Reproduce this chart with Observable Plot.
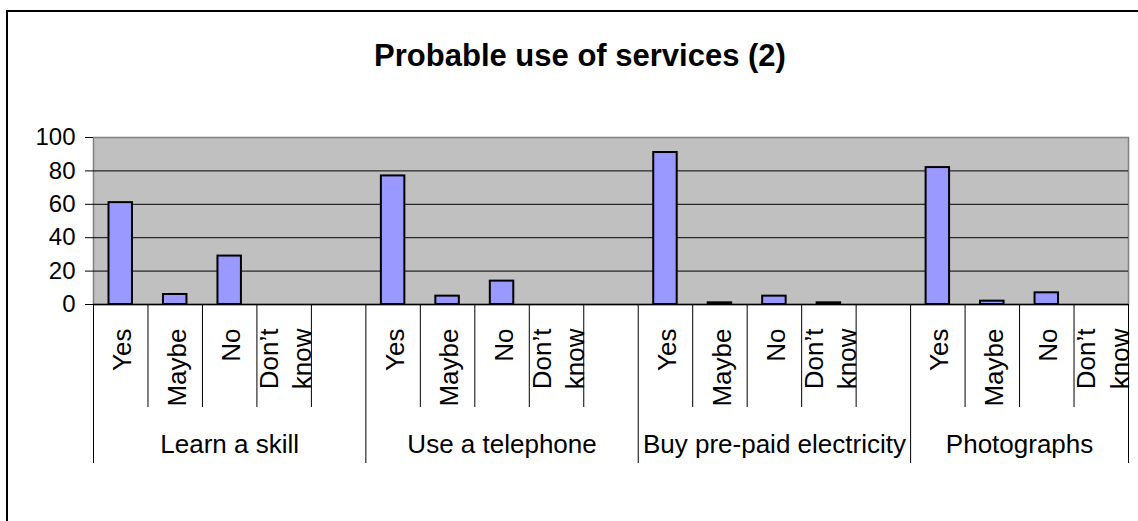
<!DOCTYPE html>
<html>
<head>
<meta charset="utf-8">
<script src="https://cdn.jsdelivr.net/npm/d3@7"></script>
<script src="https://cdn.jsdelivr.net/npm/@observablehq/plot@0.6"></script>
<style>
  html, body { margin: 0; padding: 0; background: #fff; }
  body { width: 1138px; height: 521px; overflow: hidden; position: relative;
         font-family: "Liberation Sans", Arial, sans-serif; }
  #border { position: absolute; left: 6px; top: 10px; width: 1148px; height: 600px;
            border: 2px solid #000; box-sizing: border-box; }
  #title { position: absolute; left: 6px; top: 40px; width: 1148px; text-align: center;
           font-size: 31px; line-height: 31px; font-weight: bold; color: #000; }
  #chart { position: absolute; left: 0; top: 100px; }
  #chart svg { overflow: visible; }
</style>
</head>
<body>
<div id="border"></div>
<div id="title">Probable use of services (2)</div>
<div id="chart"></div>
<script>
// ---- data ----
const groups = ["Learn a skill", "Use a telephone", "Buy pre-paid electricity", "Photographs"];
const answers = ["Yes", "Maybe", "No", "Don’t\nknow"];
const learnSkill     = [61, 6, 29, 0];
const useTelephone   = [77, 5, 14, 0];
const buyElectricity = [91, 1, 5, 1];
const photographs    = [82, 2, 7, 0];
const yTicks = [0, 20, 40, 60, 80, 100];

// ---- build slot table (blank slot between groups) ----
const series = [learnSkill, useTelephone, buyElectricity, photographs];
const rows = [];
const groupSpans = [];
const innerBounds = [];
let i = 0;
groups.forEach((g, gi) => {
  const start = i;
  answers.forEach((a, ai) => {
    rows.push({i, group: g, answer: a, value: series[gi][ai]});
    i++;
  });
  if (gi < groups.length - 1) i++; // blank slot
  groupSpans.push({group: g, start, end: i});
  for (let b = start + 1; b < i; b++) innerBounds.push(b);
});
const nSlots = i;
const groupBounds = [0, ...groupSpans.map(d => d.end)];

const font = "'Liberation Sans', Arial, sans-serif";

const chart = Plot.plot({
  width: 1138,
  height: 421,
  marginLeft: 93,
  marginRight: 10,
  marginTop: 37,
  marginBottom: 217,
  style: {fontFamily: font, fontSize: "25px", color: "#000", background: "transparent", overflow: "visible"},
  x: {type: "linear", domain: [0, nSlots], axis: null},
  y: {domain: [0, 100], label: null},
  marks: [
    Plot.frame({fill: "#C0C0C0", stroke: "#808080", strokeWidth: 1.5}),
    Plot.ruleY(yTicks.filter(t => t > 0 && t < 100), {stroke: "#000", strokeWidth: 1}),
    Plot.rectY(rows, {
      x1: "i", x2: d => d.i + 1, y: "value",
      insetLeft: 15.5, insetRight: 15.5,
      fill: "#9999FF", stroke: "#000", strokeWidth: 2
    }),
    Plot.ruleY([0], {stroke: "#000", strokeWidth: 1.5}),
    Plot.axisY({ticks: yTicks, tickSize: 8, tickPadding: 10, fontSize: 24, stroke: "#000", label: null}),
    // category separators below the axis
    Plot.ruleX(innerBounds, {x: d => d, insetTop: 167, insetBottom: -103, stroke: "#000", strokeWidth: 1}),
    Plot.ruleX(groupBounds, {x: d => d, insetTop: 167, insetBottom: -159, stroke: "#000", strokeWidth: 1}),
    // answer labels (rotated)
    Plot.text(rows, {
      x: d => d.i + 0.5, text: "answer", frameAnchor: "bottom",
      rotate: -90, textAnchor: "end", lineAnchor: "middle", lineHeight: 1.28,
      dy: 24, fontSize: 26, fill: "#000"
    }),
    // group labels
    Plot.text(groupSpans, {
      x: d => (d.start + d.end) / 2, text: "group", frameAnchor: "bottom",
      lineAnchor: "middle", dy: 140, fontSize: 26, fill: "#000"
    })
  ]
});
document.getElementById("chart").appendChild(chart);
</script>
</body>
</html>
